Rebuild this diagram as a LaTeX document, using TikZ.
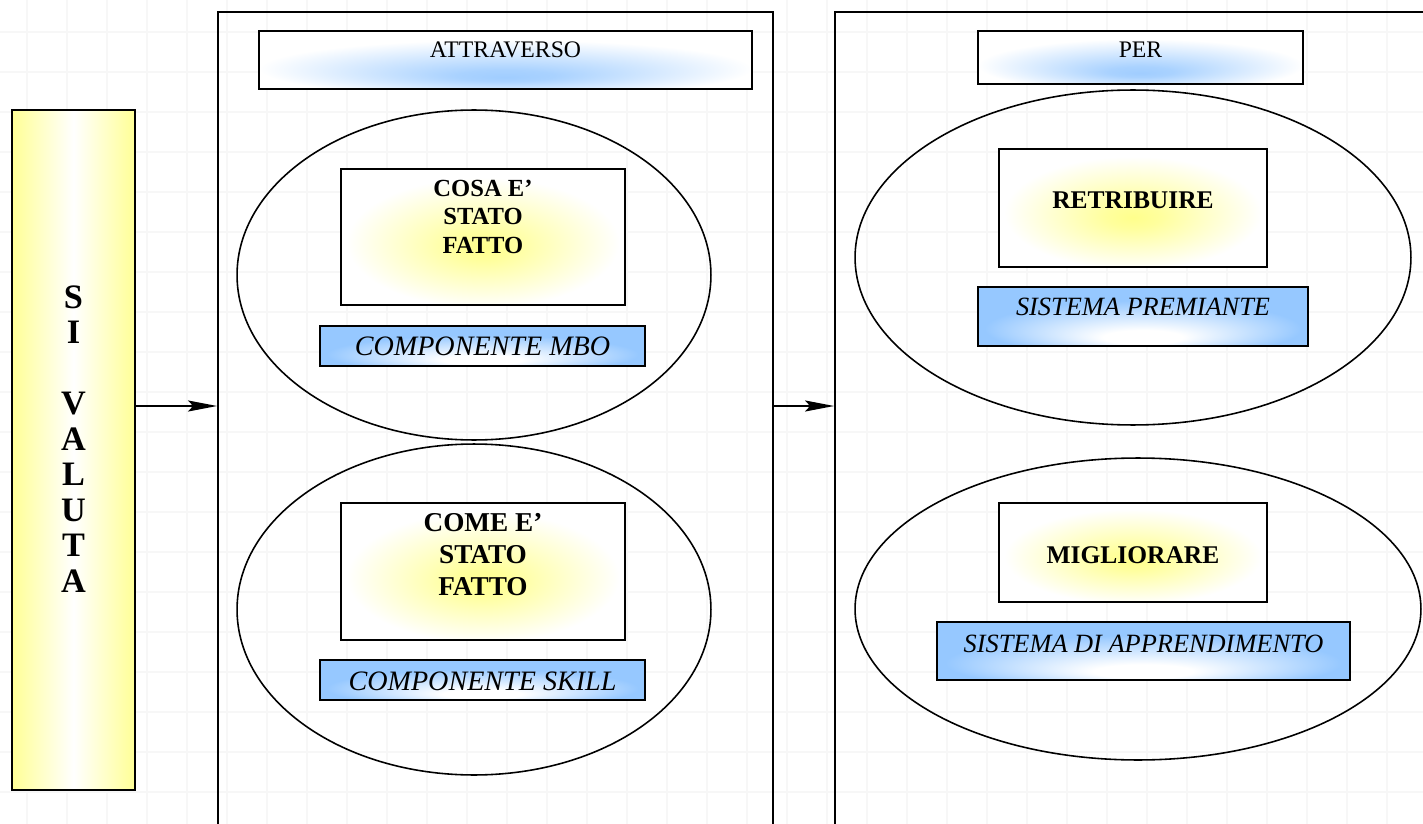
\documentclass[tikz,border=0pt]{standalone}
\usepackage{fontspec}
\setmainfont{Liberation Serif}
\usetikzlibrary{arrows.meta,shapes.geometric}

\definecolor{barYellow}{RGB}{255,255,150}
\definecolor{glowYellow}{RGB}{255,255,140}
\definecolor{hdBlue}{RGB}{160,205,255}
\definecolor{cmpBlue}{RGB}{150,200,255}

\pgfdeclareradialshading{yglow}{\pgfpoint{0bp}{-4bp}}{color(0bp)=(glowYellow); color(5bp)=(glowYellow!85!white); color(24bp)=(white); color(50bp)=(white)}
\pgfdeclareradialshading{hglow}{\pgfpoint{0bp}{-15bp}}{color(0bp)=(hdBlue); color(5bp)=(hdBlue!90!white); color(25bp)=(white); color(50bp)=(white)}
\pgfdeclareradialshading{cglow}{\pgfpoint{0bp}{-20bp}}{color(0bp)=(white); color(6bp)=(white); color(24bp)=(cmpBlue); color(50bp)=(cmpBlue)}

\tikzset{
	gridline/.style={line width=1.2pt, color=black!3},
	panel/.style={draw, line width=1.1pt, inner sep=0pt},
	zone/.style={draw, ellipse, line width=0.9pt, inner sep=0pt},
	valbar/.style={draw, line width=1.1pt, left color=barYellow, right color=barYellow, middle color=white, minimum width=2.46cm, minimum height=13.6cm},
	ybox/.style={draw, line width=1.1pt, shade, shading=yglow, inner ysep=0pt, font=\bfseries},
	hbox/.style={draw, line width=1.1pt, shade, shading=hglow, inner ysep=0pt, font=\fontsize{13.5}{16}\selectfont},
	cbox/.style={draw, line width=1.1pt, shade, shading=cglow, inner ysep=0pt, font=\itshape},
	flow/.style={line width=1.1pt, -{Stealth[length=5.8mm, width=2.2mm, inset=1mm]}},
}

\begin{document}
\begin{tikzpicture}[x=0.02cm, y=-0.02cm]
	%%%%% START %%%%%
	\useasboundingbox (0,0) rectangle (1423,824);
	\clip (0,0) rectangle (1423,824);
	\fill[white] (0,0) rectangle (1423,824);
	
	\foreach \gx in {27,67,...,1427} \draw[gridline] (\gx,0) -- (\gx,824);
	\foreach \gy in {32,72,...,824} \draw[gridline] (0,\gy) -- (1423,\gy);
	
	% left bar
	\node[valbar] (valuta) at (73.5,450) {};
	\node[align=center, inner sep=0pt, font=\fontsize{19.5}{20.2}\selectfont\bfseries] (valutaT) at (73.5,439) {S\\I\\~\\V\\A\\L\\U\\T\\A};
	
	% panels
	\node[panel, minimum width=11.1cm, minimum height=16.56cm] (panA) at (495.5,426) {};
	\node[panel, minimum width=12.3cm, minimum height=16.56cm] (panB) at (1142.5,426) {};
	
	\coordinate (midline) at (0,406);
	\draw[flow] (valuta.east |- midline) -- (panA.west |- midline);
	\draw[flow] (panA.east |- midline) -- (panB.west |- midline);
	
	% headers
	\node[hbox, minimum width=9.86cm, text height=0.53cm, text depth=0.63cm] (hdA) at (505.5,60) {ATTRAVERSO};
	\node[hbox, minimum width=6.5cm, text height=0.53cm, text depth=0.53cm] (hdB) at (1140.5,57.5) {PER};
	
	% attraverso
	\node[zone, minimum width=9.48cm, minimum height=6.6cm] (zCosa) at (474,275) {};
	\node[zone, minimum width=9.48cm, minimum height=6.62cm] (zCome) at (474,609.5) {};
	
	\node[ybox, minimum width=5.68cm, minimum height=2.72cm] (cosa) at (483,237) {};
	\node[align=center, inner sep=0pt, font=\fontsize{14}{16.2}\selectfont\bfseries] (cosaT) at (483,216.5) {COSA E'\\STATO\\FATTO};
	\node[cbox, minimum width=6.5cm, text height=0.6cm, text depth=0.2cm, font=\fontsize{16}{18}\selectfont\itshape] (mbo) at (482.5,346) {COMPONENTE MBO};
	
	\node[ybox, minimum width=5.68cm, minimum height=2.74cm] (come) at (483,571.5) {};
	\node[align=center, inner sep=0pt, font=\fontsize{15.5}{18.2}\selectfont\bfseries] (comeT) at (483,555) {COME E'\\STATO\\FATTO};
	\node[cbox, minimum width=6.5cm, text height=0.6cm, text depth=0.2cm, font=\fontsize{16}{18}\selectfont\itshape] (skill) at (482.5,680) {COMPONENTE SKILL};
	
	% per
	\node[zone, minimum width=11.12cm, minimum height=6.7cm] (zRetr) at (1133,257.5) {};
	\node[zone, minimum width=11.32cm, minimum height=6.04cm] (zMigl) at (1138,609) {};
	
	\node[ybox, minimum width=5.36cm, text height=1.19cm, text depth=1.17cm, font=\fontsize{14.5}{17}\selectfont\bfseries] (retr) at (1133,208) {RETRIBUIRE};
	\node[cbox, minimum width=6.6cm, text height=0.58cm, text depth=0.6cm, font=\fontsize{15}{17}\selectfont\itshape] (prem) at (1143,316.5) {SISTEMA PREMIANTE};
	
	\node[ybox, minimum width=5.36cm, text height=1.2cm, text depth=0.78cm, font=\fontsize{14.5}{17}\selectfont\bfseries] (migl) at (1133,552.5) {MIGLIORARE};
	\node[cbox, minimum width=8.26cm, text height=0.6cm, text depth=0.56cm, font=\fontsize{15}{17}\selectfont\itshape] (appr) at (1143.5,651) {SISTEMA DI APPRENDIMENTO};
	
	%%%%% END %%%%%
\end{tikzpicture}
\end{document}
